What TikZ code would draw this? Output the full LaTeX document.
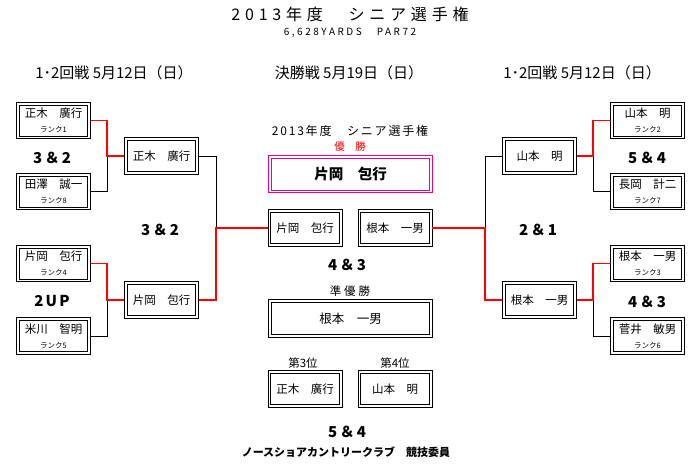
\documentclass[tikz,border=0pt]{standalone}
\usepackage{fontspec}
\setmainfont{Noto Sans CJK JP}
\newcommand{\nm}[1]{{\fontsize{11.5}{13}\selectfont #1}}
\newcommand{\rk}[1]{{\fontsize{7.5}{9}\selectfont #1}}
\begin{document}
\begin{tikzpicture}[x=1pt,y=-1pt,
  dframe/.style={draw=#1, line width=0.9pt,
    path picture={\draw[#1, line width=0.9pt]
      ([shift={(2.8pt,-2.8pt)}]path picture bounding box.north west) rectangle
      ([shift={(-2.8pt,2.8pt)}]path picture bounding box.south east);}},
  pbox/.style={dframe=black, minimum width=74pt, minimum height=36.5pt,
    inner sep=0pt, align=center, font=\fontsize{11.5}{13}\selectfont},
  bigbox/.style={pbox, minimum width=164pt, minimum height=37.5pt},
  wline/.style={draw=red, line width=1.6pt},
  bline/.style={draw=black, line width=0.8pt},
  score/.style={font=\fontsize{15}{17}\selectfont\bfseries\addfontfeatures{LetterSpace=15}},
  hdr/.style={font=\fontsize{15}{17}\selectfont},
  lbl/.style={font=\fontsize{11.5}{13}\selectfont},
]
\useasboundingbox (0,0) rectangle (700,467);

% titles
\node[font=\fontsize{16}{18}\selectfont\addfontfeatures{LetterSpace=30}] (title) at (350,14) {2013年度　シニア選手権};
\node[font=\fontsize{10}{12}\selectfont\addfontfeatures{LetterSpace=25}] (sub) at (350,33) {6,628YARDS　PAR72};
\node[hdr] (hl) at (114,73) {1･2回戦 5月12日（日）};
\node[hdr] (hm) at (349,73) {決勝戦 5月19日（日）};
\node[hdr] (hr) at (582,73) {1･2回戦 5月12日（日）};

% left round 1
\node[pbox] (l1) at (53.5,120.5) {\nm{正木　廣行}\\[2pt]\rk{ランク1}};
\node[pbox] (l2) at (53.5,191.5) {\nm{田澤　誠一}\\[2pt]\rk{ランク8}};
\node[pbox] (l3) at (53.5,263.5) {\nm{片岡　包行}\\[2pt]\rk{ランク4}};
\node[pbox] (l4) at (53.5,336) {\nm{米川　智明}\\[2pt]\rk{ランク5}};
% right round 1
\node[pbox] (r1) at (647.5,120.5) {\nm{山本　明}\\[2pt]\rk{ランク2}};
\node[pbox] (r2) at (647.5,191.5) {\nm{長岡　計二}\\[2pt]\rk{ランク7}};
\node[pbox] (r3) at (647.5,263.5) {\nm{根本　一男}\\[2pt]\rk{ランク3}};
\node[pbox] (r4) at (647.5,336) {\nm{菅井　敏男}\\[2pt]\rk{ランク6}};
% round 2
\node[pbox] (la) at (161.5,156) {正木　廣行};
\node[pbox] (lb) at (161.5,300) {片岡　包行};
\node[pbox] (ra) at (539.5,156) {山本　明};
\node[pbox] (rb) at (539.5,300) {根本　一男};
% final
\node[pbox] (fl) at (305,228) {片岡　包行};
\node[pbox] (fr) at (395,228) {根本　一男};

% centre results
\node[font=\fontsize{12}{14}\selectfont\addfontfeatures{LetterSpace=15}] (ctitle) at (350,131) {2013年度　シニア選手権};
\node[font=\fontsize{10.5}{12}\selectfont, text=red] (win) at (350,147) {優　勝};
\node[bigbox, dframe=magenta, line width=0.7pt, font=\fontsize{14.5}{16}\selectfont\bfseries] (champ) at (350.5,174) {片岡　包行};
\node[lbl] (ru) at (350,291) {準\hspace{3pt}優\hspace{3pt}勝};
\node[bigbox, font=\fontsize{12.5}{14}\selectfont] (runner) at (350.5,318.5) {根本　一男};
\node[lbl] (p3) at (303,363) {第3位};
\node[lbl] (p4) at (395,363) {第4位};
\node[pbox] (t3) at (305,389) {正木　廣行};
\node[pbox] (t4) at (395,389) {山本　明};

% scores
\node[score] (s1) at (52,158) {3＆2};
\node[score] (s2) at (52,301) {2UP};
\node[score] (s3) at (160,230) {3＆2};
\node[score] (s4) at (347,265) {4＆3};
\node[score] (s5) at (538,230) {2＆1};
\node[score] (s6) at (647,158) {5＆4};
\node[score] (s7) at (647,302) {4＆3};
\node[score] (s8) at (347,432) {5＆4};
\node[font=\fontsize{11}{12}\selectfont\bfseries] (foot) at (346,452) {ノースショアカントリークラブ　競技委員};

% junctions
\coordinate (j1) at (107,156);
\coordinate (j2) at (107,300);
\coordinate (j3) at (216,228);
\coordinate (j4) at (485,228);
\coordinate (j5) at (593,156);
\coordinate (j6) at (593,300);

% connectors
\draw[bline] (l2.east) -| (j1);
\draw[wline] (l1.east) -| (j1) -- (la.west);
\draw[bline] (l4.east) -| (j2);
\draw[wline] (l3.east) -| (j2) -- (lb.west);
\draw[bline] (la.east) -| (j3);
\draw[wline] (lb.east) -| (j3) -- (fl.west);
\draw[bline] (r2.west) -| (j5);
\draw[wline] (r1.west) -| (j5) -- (ra.east);
\draw[bline] (r4.west) -| (j6);
\draw[wline] (r3.west) -| (j6) -- (rb.east);
\draw[bline] (ra.west) -| (j4);
\draw[wline] (rb.west) -| (j4) -- (fr.east);
\end{tikzpicture}
\end{document}
